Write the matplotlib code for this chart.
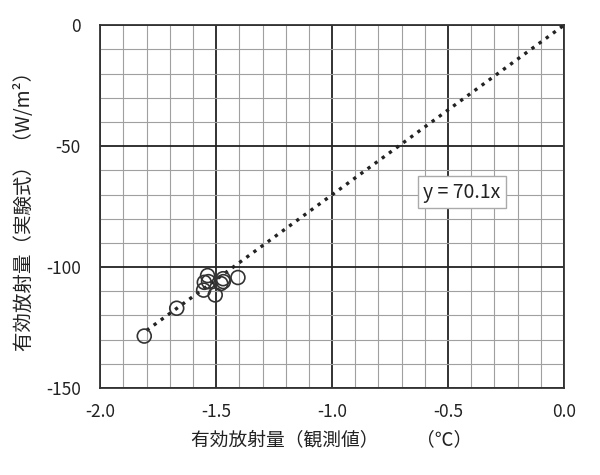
import numpy as np
import matplotlib.pyplot as plt
from matplotlib.ticker import MultipleLocator

plt.rcParams['font.family'] = ['Noto Sans CJK JP', 'DejaVu Sans']

# 観測値 (x) と実験式 (y)
obs = [-1.81, -1.67, -1.537, -1.551, -1.533, -1.554, -1.504, -1.480, -1.469, -1.47, -1.406]
calc = [-128.5, -117.0, -103.5, -106.3, -106.0, -109.5, -111.5, -106.8, -106.0, -104.8, -104.3]

slope = 70.1
line_x = [-1.8, 0.0]

fig = plt.figure(figsize=(6, 4.75), dpi=100)
ax = fig.add_axes([0.167, 0.183, 0.773, 0.764])

ax.set_xlim(-2.0, 0.0)
ax.set_ylim(-150, 0)
ax.xaxis.set_major_locator(MultipleLocator(0.5))
ax.xaxis.set_minor_locator(MultipleLocator(0.1))
ax.yaxis.set_major_locator(MultipleLocator(50))
ax.yaxis.set_minor_locator(MultipleLocator(10))
ax.grid(which='major', color='#222222', linewidth=1.3)
ax.grid(which='minor', color='#a0a0a0', linewidth=0.8)
ax.tick_params(which='both', length=0, labelsize=12.5, colors='#222222')
ax.tick_params(axis='x', pad=11)
ax.tick_params(axis='y', pad=14)
ax.xaxis.set_major_formatter(plt.FuncFormatter(lambda v, p: f'{v:.1f}'))
ax.yaxis.set_major_formatter(plt.FuncFormatter(lambda v, p: f'{v:.0f}'))
for s in ax.spines.values():
    s.set_color('#333333')
    s.set_linewidth(1.3)

ax.plot(line_x, [slope * v for v in line_x], linestyle=':', color='#222222',
        linewidth=2.4, zorder=3)
ax.scatter(obs, calc, s=100, facecolors='none', edgecolors='#333333',
           linewidths=1.2, zorder=4)

ax.text(-0.44, -69, 'y = 70.1x', fontsize=14, ha='center', va='center',
        color='#222222', zorder=5,
        bbox=dict(boxstyle='square,pad=0.3', facecolor='white', edgecolor='#aaaaaa'))

ax.set_xlabel('有効放射量（観測値）　　（℃）', fontsize=13.5, color='#222222', labelpad=6)
ax.set_ylabel('有効放射量（実験式） （W/m²）', fontsize=14, color='#222222', labelpad=8)

fig.savefig('out.png', dpi=100)
